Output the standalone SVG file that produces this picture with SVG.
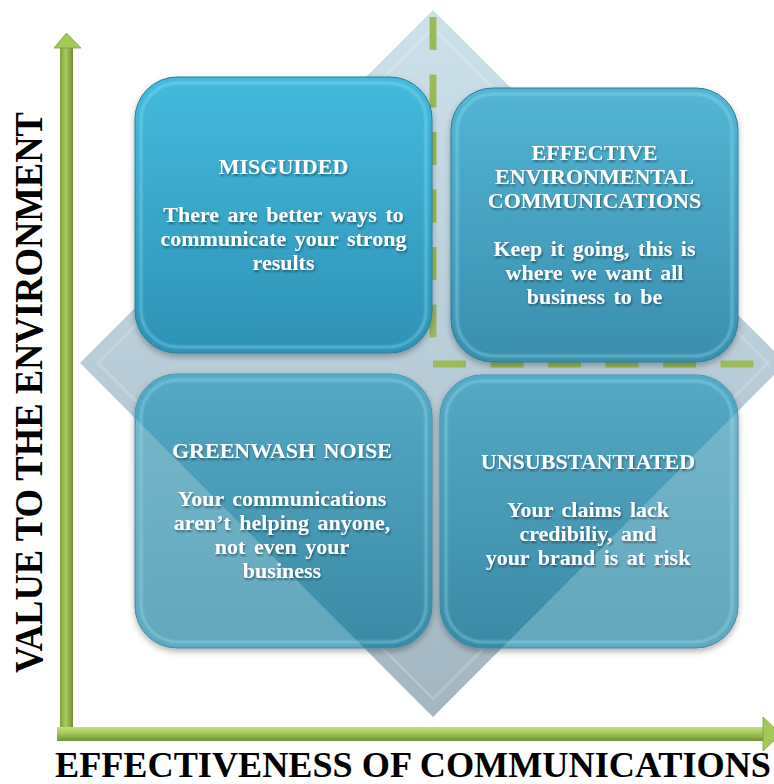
<svg xmlns="http://www.w3.org/2000/svg" width="774" height="784" viewBox="0 0 774 784">
<defs>
  <style>
    .bt{font-family:"Liberation Serif","Times New Roman",serif;font-weight:bold;font-size:22px;fill:#ffffff;text-anchor:middle;word-spacing:3px;filter:url(#tshadow)}
    .ax{font-family:"Liberation Serif","Times New Roman",serif;font-weight:bold;fill:#000000}
    .rim{fill:none;stroke:#9BE6F8;stroke-opacity:0.45;stroke-width:2.5}
    .dash{fill:none;stroke:#9BBB59;stroke-width:7;stroke-dasharray:33 24.5}
  </style>
  <linearGradient id="gDiamond" x1="0" y1="0" x2="0" y2="1">
    <stop offset="0" stop-color="#CDE1EB"/>
    <stop offset="0.5" stop-color="#B8CDD8"/>
    <stop offset="1" stop-color="#A2B6C1"/>
  </linearGradient>
  <linearGradient id="gTop1" x1="0" y1="0" x2="0" y2="1">
    <stop offset="0" stop-color="#43BADD"/>
    <stop offset="1" stop-color="#2E92B5"/>
  </linearGradient>
  <linearGradient id="gTop2" x1="0" y1="0" x2="0" y2="1">
    <stop offset="0" stop-color="#53B5D4"/>
    <stop offset="1" stop-color="#3A8EAD"/>
  </linearGradient>
  <linearGradient id="gIn" x1="0" y1="0" x2="0" y2="1">
    <stop offset="0" stop-color="#55A9C5"/>
    <stop offset="1" stop-color="#3A8AA5"/>
  </linearGradient>
  <linearGradient id="gOut" x1="0" y1="0" x2="0" y2="1">
    <stop offset="0" stop-color="#78B8CC"/>
    <stop offset="1" stop-color="#62A7BD"/>
  </linearGradient>
  <linearGradient id="gShaftV" x1="0" y1="0" x2="1" y2="0">
    <stop offset="0" stop-color="#7F9F3F"/>
    <stop offset="0.45" stop-color="#A8CC5E"/>
    <stop offset="1" stop-color="#6F8D35"/>
  </linearGradient>
  <linearGradient id="gShaftH" x1="0" y1="0" x2="0" y2="1">
    <stop offset="0" stop-color="#C3E27A"/>
    <stop offset="0.45" stop-color="#A3C75A"/>
    <stop offset="1" stop-color="#71903A"/>
  </linearGradient>
  <clipPath id="diamondClip">
    <polygon points="433,10 786,363 433,717 80,363"/>
  </clipPath>
  <filter id="shadow" x="-10%" y="-10%" width="120%" height="125%">
    <feDropShadow dx="0" dy="3" stdDeviation="3" flood-color="#000000" flood-opacity="0.3"/>
  </filter>
  <filter id="tshadow" x="-10%" y="-30%" width="120%" height="160%">
    <feDropShadow dx="1" dy="2" stdDeviation="1.2" flood-color="#000000" flood-opacity="0.4"/>
  </filter>
  <filter id="soft" x="-5%" y="-5%" width="110%" height="110%">
    <feGaussianBlur stdDeviation="1"/>
  </filter>
</defs>

<rect width="774" height="784" fill="#ffffff"/>

<g id="diamond">
  <polygon points="433,10 786,363 433,717 80,363" fill="url(#gDiamond)"/>
  <polygon points="433,28 768,363 433,699 98,363" fill="none" stroke="#ffffff" stroke-opacity="0.18" stroke-width="3"/>
</g>

<g id="connectors">
  <line class="dash" x1="433" y1="17" x2="433" y2="362"/>
  <line class="dash" x1="433" y1="364" x2="757" y2="364"/>
</g>

<g id="misguided">
  <rect x="135" y="77" width="297" height="276" rx="42" fill="url(#gTop1)" stroke="#2A7C99" stroke-width="1" filter="url(#shadow)"/>
  <rect class="rim" x="141" y="83" width="285" height="264" rx="37" filter="url(#soft)"/>
  <text class="bt" x="283.5" y="174">MISGUIDED</text>
  <text class="bt" x="283.5" y="222">There are better ways to</text>
  <text class="bt" x="283.5" y="246">communicate  your strong</text>
  <text class="bt" x="283.5" y="270">results</text>
</g>

<g id="effective">
  <rect x="451" y="88" width="287" height="274" rx="42" fill="url(#gTop2)" stroke="#2D7C98" stroke-width="1" filter="url(#shadow)"/>
  <rect class="rim" x="457" y="94" width="275" height="262" rx="37" filter="url(#soft)"/>
  <text class="bt" x="594.5" y="160">EFFECTIVE</text>
  <text class="bt" x="594.5" y="184">ENVIRONMENTAL</text>
  <text class="bt" x="594.5" y="208">COMMUNICATIONS</text>
  <text class="bt" x="594.5" y="256">Keep it going, this is</text>
  <text class="bt" x="594.5" y="280">where we want all</text>
  <text class="bt" x="594.5" y="304">business to be</text>
</g>

<g id="greenwash">
  <rect x="135" y="374" width="297" height="274" rx="42" fill="url(#gOut)" stroke="#3E8AA4" stroke-width="1" filter="url(#shadow)"/>
  <rect x="135" y="374" width="297" height="274" rx="42" fill="url(#gIn)" clip-path="url(#diamondClip)"/>
  <rect class="rim" x="141" y="380" width="285" height="262" rx="37" filter="url(#soft)"/>
  <text class="bt" x="282" y="458">GREENWASH NOISE</text>
  <text class="bt" x="282" y="506">Your  communications</text>
  <text class="bt" x="282" y="530">aren’t helping  anyone,</text>
  <text class="bt" x="282" y="554">not even your</text>
  <text class="bt" x="282" y="578">business</text>
</g>

<g id="unsubstantiated">
  <rect x="440" y="375" width="298" height="273" rx="42" fill="url(#gOut)" stroke="#3E8AA4" stroke-width="1" filter="url(#shadow)"/>
  <rect x="440" y="375" width="298" height="273" rx="42" fill="url(#gIn)" clip-path="url(#diamondClip)"/>
  <rect class="rim" x="446" y="381" width="286" height="261" rx="37" filter="url(#soft)"/>
  <text class="bt" x="588" y="469">UNSUBSTANTIATED</text>
  <text class="bt" x="588" y="517">Your  claims  lack</text>
  <text class="bt" x="588" y="541">credibiliy,  and</text>
  <text class="bt" x="588" y="565">your brand  is at risk</text>
</g>

<g id="y-axis">
  <rect x="60" y="46" width="13" height="688" fill="url(#gShaftV)"/>
  <polygon points="66.5,33 81,48 54,48" fill="#A3C85A" stroke="#7F9F3F" stroke-width="0.8"/>
</g>
<g id="x-axis">
  <rect x="57" y="727" width="708" height="14" fill="url(#gShaftH)"/>
  <polygon points="763,717 781,734 763,751" fill="#A3C85A" stroke="#7F9F3F" stroke-width="0.8"/>
</g>

<g id="labels">
  <text class="ax" transform="translate(42,673) rotate(-90)" font-size="40" textLength="561" lengthAdjust="spacingAndGlyphs">VALUE TO THE ENVIRONMENT</text>
  <text class="ax" x="55" y="777" font-size="36" textLength="716" lengthAdjust="spacingAndGlyphs">EFFECTIVENESS OF COMMUNICATIONS</text>
</g>
</svg>
